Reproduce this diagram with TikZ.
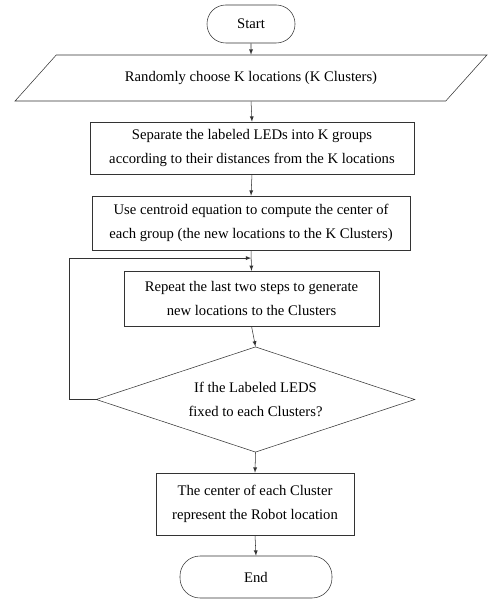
\documentclass[tikz,border=0pt]{standalone}
\usepackage{fontspec}
\setmainfont{Liberation Serif}
\usepackage{tikz}
\usetikzlibrary{positioning, shapes.geometric, calc}

\begin{document}
\begin{tikzpicture}[x=0.75pt,y=0.75pt,font=\fontsize{11}{17.5}\selectfont]
	\tikzstyle{terminal}=[draw=black!80,rounded corners=14pt,align=center,inner sep=0pt]
	\tikzstyle{process}=[draw=black!80,rectangle,align=center,inner sep=0pt]
	\tikzstyle{inout}=[draw=black!80,trapezium,trapezium left angle=26.6,trapezium right angle=153.4,trapezium stretches=true,inner sep=0pt,align=center]
	\tikzstyle{decision}=[draw=black!80,diamond,aspect=3,align=center,inner sep=0pt]
	\tikzstyle{flow}=[-latex,draw=black!80]
	\useasboundingbox (0,0) rectangle (491,-599);
	\node[terminal,minimum width=66pt,minimum height=28.5pt](start) at (251,-24) {Start};
	\node[inout,minimum width=354pt,minimum height=34.5pt](choose) at (251,-78) {Randomly choose K locations (K Clusters)};
	\node[process,minimum width=243pt,minimum height=39pt](separate) at (252,-148) {Separate the labeled LEDs into K groups\\according to their distances from the K locations};
	\node[process,minimum width=238.5pt,minimum height=40.5pt](centroid) at (251,-223) {Use centroid equation to compute the center of\\each group (the new locations to the K Clusters)};
	\node[process,minimum width=191pt,minimum height=41pt](repeat) at (251.5,-298.5) {Repeat the last two steps to generate\\new locations to the Clusters};
	\node[decision,minimum width=239pt,minimum height=79pt](fixed) at (255.5,-399.5) {If the Labeled LEDS\\[1pt]fixed to each Clusters?};
	\node[process,minimum width=148.5pt,minimum height=46.5pt](robot) at (255,-504) {The center of each Cluster\\represent the Robot location};
	\node[terminal,minimum width=114pt,minimum height=31.5pt,rounded corners=15pt](stop) at (256,-577) {End};
	\coordinate (join) at ($(centroid.south)!0.38!(repeat.north)$);
	\path
		(start.south) edge[flow] (choose.north)
		(choose.south) edge[flow] (separate.north)
		(separate.south) edge[flow] (centroid.north)
		(centroid.south) edge[flow] (repeat.north)
		(repeat.south) edge[flow] (fixed.north)
		(fixed.south) edge[flow] (robot.north)
		(robot.south) edge[flow] (stop.north);
	\draw[flow] (fixed.west) -- ++(-27,0) |- (join);
\end{tikzpicture}
\end{document}
